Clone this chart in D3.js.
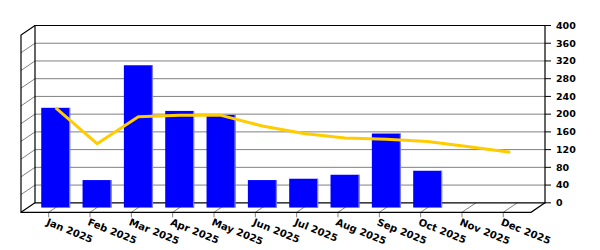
<!DOCTYPE html>
<html>
<head>
<meta charset="utf-8">
<script src="https://cdn.jsdelivr.net/npm/d3@7.9.0/dist/d3.min.js"></script>
<style>
  body { margin: 0; background: #fff; }
  svg { display: block; }
  text { font-family: "DejaVu Sans", sans-serif; font-weight: bold; fill: #000; }
</style>
</head>
<body>
<div id="viz"></div>
<script>
const months = ["Jan 2025", "Feb 2025", "Mar 2025", "Apr 2025", "May 2025", "Jun 2025",
  "Jul 2025", "Aug 2025", "Sep 2025", "Oct 2025", "Nov 2025", "Dec 2025"];
const barValues = [225, 62, 321, 218, 209, 62, 65, 74, 167, 83, 0, 0];
const lineValues = [225, 144, 205, 208, 208, 184, 167, 157, 154, 149, 137, 125];
const yTicks = [0, 40, 80, 120, 160, 200, 240, 280, 320, 360, 400];

const width = 600, height = 250;
const left = 35, right = 545;
// depth of the 3D box (back wall -> front edge)
const dx = -14, dy = 9.5;

const svg = d3.select("#viz").append("svg")
  .attr("width", width)
  .attr("height", height);

const x = d3.scalePoint()
  .domain(months)
  .range([left, right])
  .padding(0.67);

const y = d3.scaleLinear()
  .domain([0, 400])
  .range([202.8, 25.5]);

const y0 = y(0), yTop = y(400);

// gridlines on back wall + left wall
const grid = svg.append("g").attr("stroke", "#808080").attr("stroke-width", 1);
grid.selectAll("line.back")
  .data(yTicks.slice(1, -1))
  .join("line")
  .attr("class", "back")
  .attr("x1", left).attr("x2", right)
  .attr("y1", d => y(d)).attr("y2", d => y(d));
grid.selectAll("line.side")
  .data(yTicks.slice(1, -1))
  .join("line")
  .attr("class", "side")
  .attr("x1", left).attr("x2", left + dx)
  .attr("y1", d => y(d)).attr("y2", d => y(d) + dy);

// category tick lines on the floor
grid.selectAll("line.floor")
  .data(months)
  .join("line")
  .attr("class", "floor")
  .attr("x1", d => x(d)).attr("y1", y0)
  .attr("x2", d => x(d) + dx).attr("y2", y0 + dy);
grid.selectAll("line.xtick")
  .data(months)
  .join("line")
  .attr("class", "xtick")
  .attr("x1", d => x(d) + dx).attr("y1", y0 + dy)
  .attr("x2", d => x(d) + dx).attr("y2", y0 + dy + 5);

// box frame
const frame = svg.append("g").attr("stroke", "#000").attr("stroke-width", 1.2).attr("fill", "none");
frame.append("path")
  .attr("d", `M${left},${yTop}H${right}V${y0}H${left}Z`);
frame.append("path")
  .attr("d", `M${left},${yTop}L${left + dx},${yTop + dy}V${y0 + dy}H${right + dx}L${right},${y0}`);
frame.append("line")
  .attr("x1", left).attr("y1", y0)
  .attr("x2", left + dx).attr("y2", y0 + dy);

// bars sit half way into the box
const mx = dx / 2, my = dy / 2;
const bw = x.step() * 0.7;

const bars = svg.append("g")
  .selectAll("g")
  .data(months.map((m, i) => ({ m, v: barValues[i] })).filter(d => d.v > 0))
  .join("g");
bars.append("rect")
  .attr("x", d => x(d.m) + mx - bw / 2)
  .attr("y", d => y(d.v) + my)
  .attr("width", bw)
  .attr("height", d => y0 - y(d.v))
  .attr("fill", "#0000ff");
bars.append("rect")
  .attr("x", d => x(d.m) + mx + bw / 2 - 1)
  .attr("y", d => y(d.v) + my)
  .attr("width", 1)
  .attr("height", d => y0 - y(d.v))
  .attr("fill", "#8c8cff");

// line series
const line = d3.line()
  .x((d, i) => x(months[i]) + mx)
  .y(d => y(d) + my);

svg.append("path")
  .datum(lineValues)
  .attr("d", line)
  .attr("fill", "none")
  .attr("stroke", "#ffcc00")
  .attr("stroke-width", 3)
  .attr("stroke-linejoin", "round");

// right axis
const yAxis = svg.append("g");
yAxis.selectAll("line")
  .data(yTicks)
  .join("line")
  .attr("x1", right).attr("x2", right + 6)
  .attr("y1", d => y(d)).attr("y2", d => y(d))
  .attr("stroke", "#000");
yAxis.selectAll("text")
  .data(yTicks)
  .join("text")
  .attr("x", right + 11)
  .attr("y", d => y(d))
  .attr("dy", "0.35em")
  .style("font-size", "9.5px")
  .text(d => d);

// x labels
svg.append("g")
  .selectAll("text")
  .data(months)
  .join("text")
  .attr("transform", d => `translate(${x(d) + dx},${y0 + dy + 5}) rotate(22)`)
  .attr("dy", "0.8em")
  .style("font-size", "10px")
  .text(d => d);
</script>
</body>
</html>
